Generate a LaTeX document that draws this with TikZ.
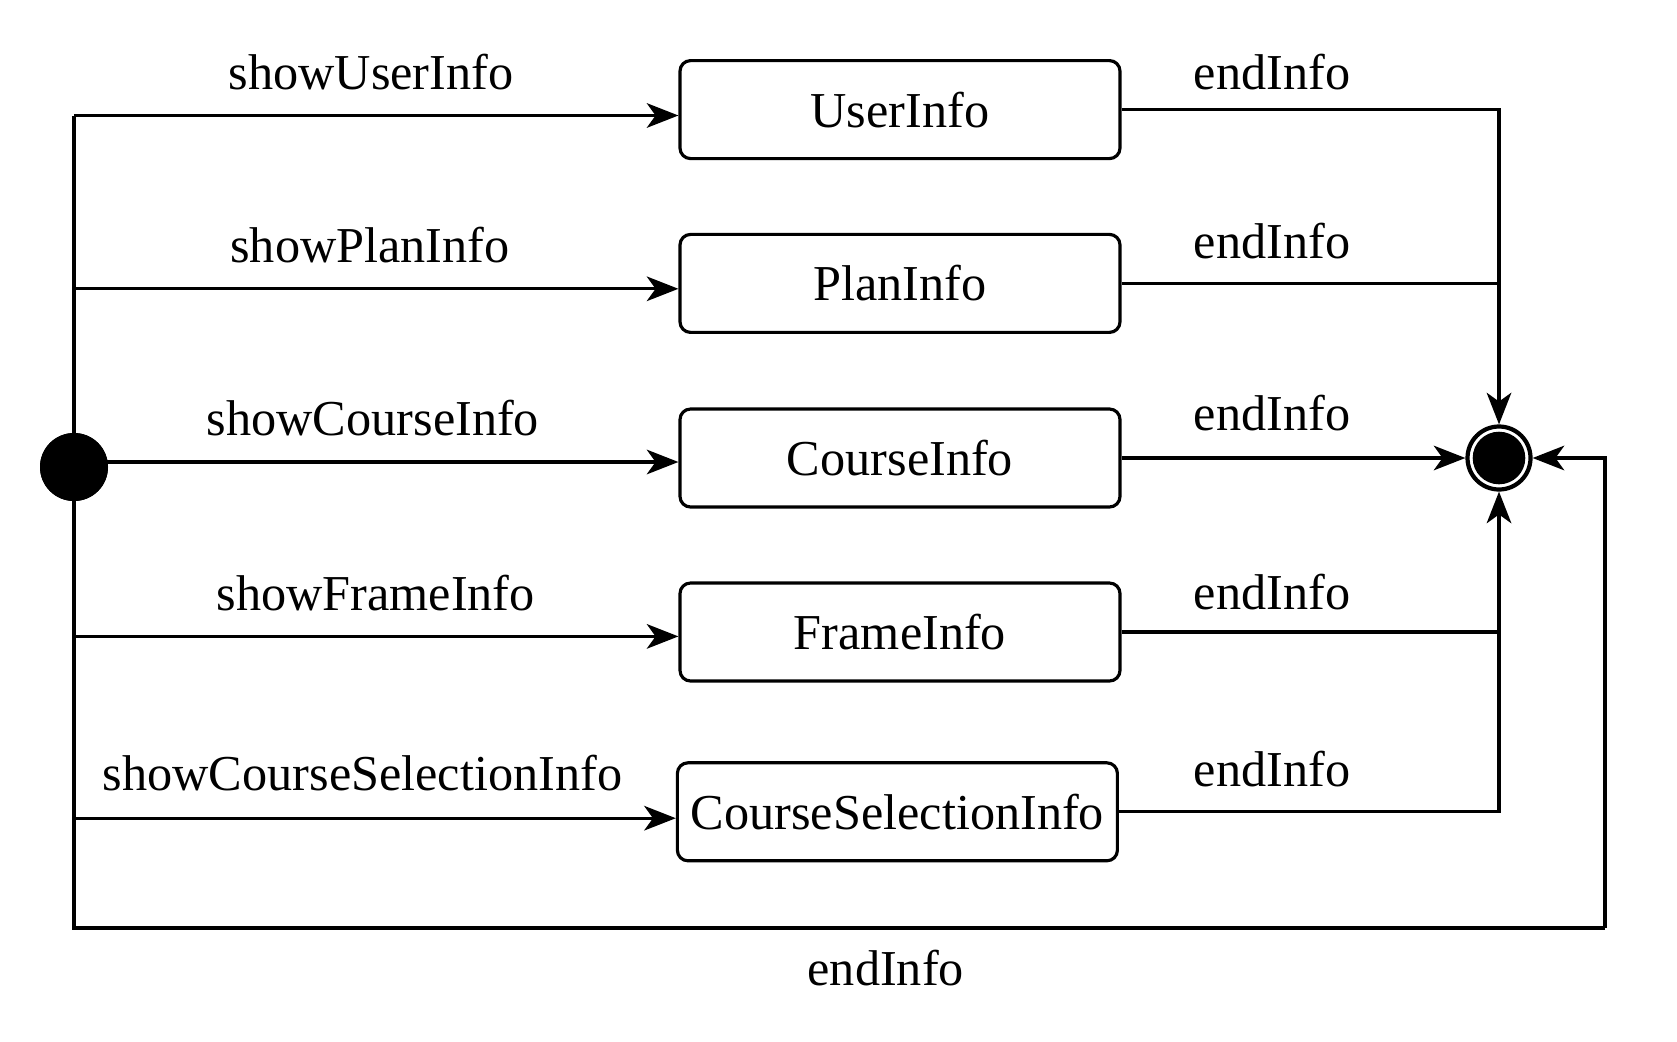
\documentclass[tikz,border=0pt]{standalone}
\usepackage{fontspec}
\setmainfont{Liberation Serif}
\usepackage{tikz}
\usetikzlibrary{arrows.meta,positioning}

\begin{document}
\begin{tikzpicture}[line width=0.9pt,
    infobox/.style={draw, rounded corners=3pt, minimum width=4.40cm, minimum height=0.98cm, inner xsep=1pt},
    lbl/.style={anchor=base, inner sep=0pt}]
 \fontsize{14.3}{17}\selectfont
 \useasboundingbox (0,0) rectangle (16.77,-10.42);
    %the start and the end
    \node[circle, fill, minimum size=0.68cm, inner sep=0pt] (init) at (0.74,-4.67) {};
    \node[circle, draw, line width=1.2pt, minimum size=0.63cm, inner sep=0pt] (fin) at (14.99,-4.58) {};
    \fill (fin) circle (0.263);

    %the states
    \node[infobox] (user) at (9.00,-1.096) {UserInfo};
    \node[infobox] (plan) at (9.00,-2.834) {PlanInfo};
    \node[infobox] (course) at (9.00,-4.58) {CourseInfo};
    \node[infobox] (frame) at (9.00,-6.32) {FrameInfo};
    \node[infobox] (csi) at (8.974,-8.118) {CourseSelectionInfo};

    %points on the left line and the loop
    \coordinate (a1) at (0.74,-1.155);
    \coordinate (a2) at (0.74,-2.888);
    \coordinate (a3) at (0.74,-4.62);
    \coordinate (a4) at (0.74,-6.364);
    \coordinate (a5) at (0.74,-8.182);
    \coordinate (bl) at (0.74,-9.28);
    \coordinate (br) at (16.05,-9.28);

    %the lines
    \draw (a1) -- (bl) -- (br);
    \draw (plan.east) -- (plan.east -| fin);
    \draw (frame.east) -- (frame.east -| fin);
    \node[circle, fill, minimum size=0.68cm, inner sep=0pt] at (init) {};

    %the arrows
    \begin{scope}[every path/.style={-{Stealth[length=9pt,width=7pt,inset=2.5pt]}}]
       \draw (a1) -- (a1 -| user.west);
       \draw (a2) -- (a2 -| plan.west);
       \draw (a3) -- (a3 -| course.west);
       \draw (a4) -- (a4 -| frame.west);
       \draw (a5) -- (a5 -| csi.west);
       \draw (user.east) -| (fin.north);
       \draw (course.east) -- (fin.west);
       \draw (csi.east) -| (fin.south);
       \draw (br) |- (fin.east);
    \end{scope}

    %the events
    \node[lbl] (e1) at (3.71,-0.893) {showUserInfo};
    \node[lbl] (e2) at (3.70,-2.627) {showPlanInfo};
    \node[lbl] (e3) at (3.73,-4.355) {showCourseInfo};
    \node[lbl] (e4) at (3.757,-6.107) {showFrameInfo};
    \node[lbl] (e5) at (3.625,-7.90) {showCourseSelectionInfo};
    \node[lbl] (f1) at (12.72,-0.893) {endInfo};
    \node[lbl] (f2) at (12.72,-2.583) {endInfo};
    \node[lbl] (f3) at (12.72,-4.30) {endInfo};
    \node[lbl] (f4) at (12.72,-6.093) {endInfo};
    \node[lbl] (f5) at (12.72,-7.867) {endInfo};
    \node[lbl] (f6) at (8.858,-9.85) {endInfo};
\end{tikzpicture}
\end{document}
